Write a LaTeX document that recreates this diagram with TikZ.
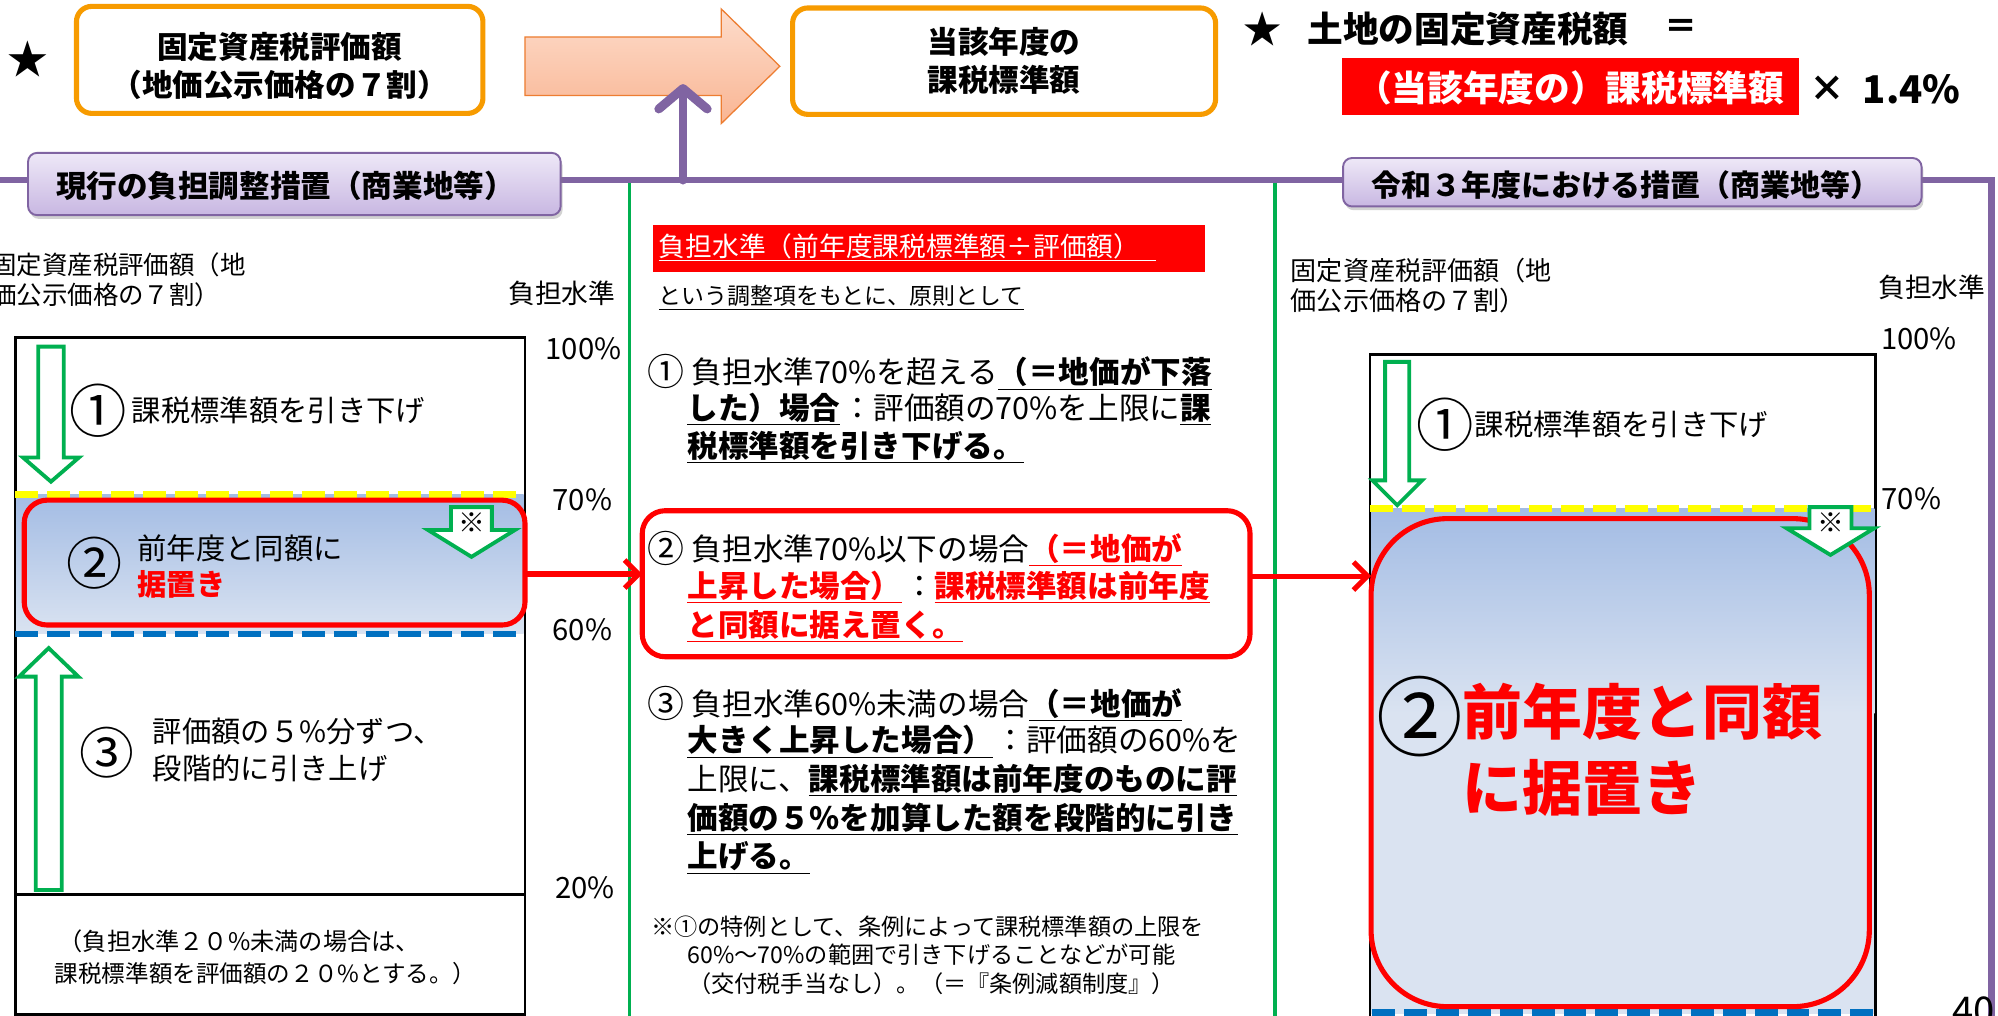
\documentclass[tikz,border=0pt]{standalone}
\usepackage{fontspec}
\setmainfont{Noto Sans CJK JP}
\usetikzlibrary{shadows,arrows.meta}
\definecolor{orng}{HTML}{F79B00}
\definecolor{purp}{HTML}{8064A2}
\definecolor{grn}{HTML}{00B050}
\definecolor{rd}{HTML}{FF0000}
\definecolor{bl}{HTML}{0070C0}
\definecolor{yl}{HTML}{FFFF00}
\definecolor{lavtop}{HTML}{EEE8F7}
\definecolor{lavbot}{HTML}{C8B7E2}
\definecolor{bltop}{HTML}{A3BCE4}
\definecolor{blbot}{HTML}{DAE3F1}
\definecolor{peachtop}{HTML}{FDDCCB}
\definecolor{peachbot}{HTML}{F9B593}
\definecolor{peachline}{HTML}{ED7D31}
\newcommand\uln[1]{\underline{\vphantom{（}#1}}
\newcommand\circn[1]{{\fontsize{29}{29}\selectfont\raisebox{-1.5pt}{#1}}}
\begin{document}
\begin{tikzpicture}[x=1pt,y=-1pt,
  every node/.style={inner sep=0pt, outer sep=0pt},
  fs/.style={font=\fontsize{#1}{#1}\selectfont},
  fsb/.style={font=\fontsize{#1}{#1}\selectfont\bfseries},
  obox/.style={draw=orng, line width=4, rounded corners=12, fill=white},
  plabel/.style={draw=purp, line width=1.5, rounded corners=7, top color=lavtop, bottom color=lavbot,
     drop shadow={shadow xshift=1.5pt, shadow yshift=-3pt, opacity=0.35}},
  rrect/.style={draw=rd, line width=4},
  garrow/.style={draw=grn, line width=3, fill=white, line join=miter},
  redarrow/.style={draw=rd, line width=4, -{Straight Barb[length=11pt,width=22pt]}},
  ln/.style={anchor=west},
  ydash/.style={yl, line width=5, dash pattern=on 18pt off 7pt},
  bdash/.style={bl, line width=5, dash pattern=on 18pt off 7pt}
]
\useasboundingbox (0,0) rectangle (1568,797);
\fill[white] (0,0) rectangle (1568,797);

% ---------- top row ----------
\node[fs=32] (star1) at (22,46) {★};
\node[obox, minimum width=319, minimum height=84] (b1) at (219.5,47) {};
\node[font=\fontsize{24}{30}\selectfont\bfseries, align=center] (b1t) at (219.5,51.5) {固定資産税評価額\\（地価公示価格の７割）};

\path[draw=peachline, line width=1, top color=peachtop, bottom color=peachbot]
  (412,29) -- (566,29) -- (566,7) -- (612,52) -- (566,97) -- (566,75) -- (412,75) -- cycle;

\node[obox, minimum width=332, minimum height=83.5, align=center,
      font=\fontsize{24}{30}\selectfont\bfseries] (b2) at (788,48) {当該年度の\\課税標準額};

\node[fsb=30] (star2) at (991,23) {★};
\node[fsb=28, ln] (eq1) at (1026,23) {土地の固定資産税額};
\node[fsb=26] (eq2) at (1319,23) {＝};
\node[fill=rd, minimum width=359, minimum height=44.5] (redbox) at (1232.3,68) {};
\node[fsb=28, text=white] (redboxt) at (1232.3,69) {（当該年度の）課税標準額};
\node[fsb=28] (times) at (1434,70) {×};
\node[fsb=30, ln] (rate) at (1462,70) {1.4\%};

% ---------- purple frame ----------
\draw[purp, line width=5] (0,141.3) -- (1563,141.3) -- (1563,800);
\coordinate (pa1) at (536,141.3);
\coordinate (pa2) at (536,66);
\draw[purp, line width=7, line cap=round, -{Straight Barb[length=16pt,width=38pt,round]}] (pa1) -- (pa2);

% green separators
\draw[grn, line width=3] (494,143.5) -- (494,800);
\draw[grn, line width=3] (1000.8,143.5) -- (1000.8,800);

\node[plabel, minimum width=418, minimum height=48.8] (pl1) at (231,144.4) {};
\node[fsb=24] (pl1t) at (224,146) {現行の負担調整措置（商業地等）};
\node[plabel, minimum width=454, minimum height=38] (pl2) at (1281,143) {};
\node[fsb=23.5] (pl2t) at (1276,145) {令和３年度における措置（商業地等）};

% ---------- left panel ----------
\node[fs=20, ln] (lt1) at (-7,208) {固定資産税評価額（地};
\node[fs=20, ln] (lt2) at (-7,231.5) {価公示価格の７割）};
\node[fs=21] (lbl) at (441,230) {負担水準};
\node[fs=23] (p100) at (458,274) {100\%};
\node[fs=23] (p70) at (457,392.5) {70\%};
\node[fs=23] (p60) at (457,494.5) {60\%};
\node[fs=23] (p20) at (459,697) {20\%};

\node[draw=black, line width=2, fill=white, minimum width=400, minimum height=531] (lbox) at (212,530.5) {};
\shade[top color=bltop, bottom color=blbot] (13,388) rectangle (411,497.5);
\draw[ydash] (12,388) -- (411,388);
\draw[bdash] (12,497.5) -- (411,497.5);
\draw[line width=2] (lbox.west |- 0,702) -- (lbox.east |- 0,702);

\node[rrect, rounded corners=18, minimum width=393, minimum height=98] (lrr) at (215.5,441.5) {};

\path[garrow] (30,272) -- (50,272) -- (50,359) -- (62,359) -- (40,378) -- (18,359) -- (30,359) -- cycle;
\path[garrow] (354,398) -- (386,398) -- (386,416) -- (404,416) -- (370,437) -- (336,416) -- (354,416) -- cycle;
\node[fs=21] (ast1) at (370,410) {※};
\path[garrow] (28,698.5) -- (48.5,698.5) -- (48.5,531) -- (61.5,531) -- (38.2,508.6) -- (15,531) -- (28,531) -- cycle;

\node[fs=45] (c1) at (77,322) {①};
\node[fs=23, ln] (l1) at (103.5,322) {課税標準額を引き下げ};
\node[fs=44] (c2) at (74,442) {②};
\node[fs=23, ln] (l2a) at (108,430) {前年度と同額に};
\node[fsb=23, ln, text=rd] (l2b) at (108,459) {据置き};
\node[fs=43] (c3) at (84,591) {③};
\node[fs=23, ln] (l3a) at (120,574) {評価額の５\%分ずつ、};
\node[fs=23, ln] (l3b) at (120,603) {段階的に引き上げ};
\node[fs=19, ln] (l4a) at (46,739) {（負担水準２０\%未満の場合は、};
\node[fs=18.5, ln] (l4b) at (43,764) {課税標準額を評価額の２０\%とする。）};

% ---------- middle panel ----------
\node[fill=rd, minimum width=433.5, minimum height=36.6] (mh) at (729.2,194.9) {};
\node[fs=21, ln, text=white] (mht) at (517,194) {\uln{負担水準（前年度課税標準額÷評価額）\hspace{12pt}}};
\node[fs=18, ln] (msub) at (517,233.5) {\uln{という調整項をもとに、原則として}};

\node[fs=24, ln] (i1a) at (508,292) {\circn{①}\hspace{6pt}負担水準70\%を超える\textbf{\uln{（＝地価が下落}}};
\node[fs=24, ln] (i1b) at (539.5,321) {\textbf{\uln{した）場合}}\hspace{2pt}：評価額の70\%を上限に\textbf{\uln{課}}};
\node[fs=24, ln] (i1c) at (539.5,351) {\textbf{\uln{税標準額を引き下げる。}}};

\node[rrect, rounded corners=18, minimum width=477, minimum height=114.6] (mrr) at (742.5,458.1) {};
\node[fs=24, ln] (i2a) at (508,430.5) {\circn{②}\hspace{6pt}負担水準70\%以下の場合\textcolor{rd}{\textbf{\uln{（＝地価が}}}};
\node[fs=24, ln] (i2b) at (539.5,460.5) {\textcolor{rd}{\textbf{\uln{上昇した場合）}}}\hspace{2pt}：\textcolor{rd}{\textbf{\uln{課税標準額は前年度}}}};
\node[fs=24, ln] (i2c) at (539.5,491.5) {\textcolor{rd}{\textbf{\uln{と同額に据え置く。}}}};

\node[fs=24, ln] (i3a) at (508,552) {\circn{③}\hspace{6pt}負担水準60\%未満の場合\textbf{\uln{（＝地価が}}};
\node[fs=24, ln] (i3b) at (539.5,582) {\textbf{\uln{大きく上昇した場合）}}\hspace{2pt}：評価額の60\%を};
\node[fs=24, ln] (i3c) at (539.5,612) {上限に、\textbf{\uln{課税標準額は前年度のものに評}}};
\node[fs=24, ln] (i3d) at (539.5,643) {\textbf{\uln{価額の５\%を加算した額を段階的に引き}}};
\node[fs=24, ln] (i3e) at (539.5,673) {\textbf{\uln{上げる。}}};

\node[fs=18.2, ln] (n1) at (511,727) {※①の特例として、条例によって課税標準額の上限を};
\node[fs=18.2, ln] (n2) at (539.5,749.5) {60\%～70\%の範囲で引き下げることなどが可能};
\node[fs=18.2, ln] (n3) at (540,772) {（交付税手当なし）。（＝『条例減額制度』）};

% ---------- right panel ----------
\node[fs=20.5, ln] (rt1) at (1013,212) {固定資産税評価額（地};
\node[fs=20.5, ln] (rt2) at (1013,235.5) {価公示価格の７割）};
\node[fs=21] (rlbl) at (1516,225.5) {負担水準};
\node[fs=23] (rp100) at (1506,265.5) {100\%};
\node[fs=23] (rp70) at (1500,391.5) {70\%};

\node[draw=black, line width=2, fill=white, minimum width=397, minimum height=522] (rbox) at (1273.5,539) {};
\shade[top color=bltop, bottom color=blbot] (1076,399) rectangle (1471,560);
\fill[blbot] (1076,559.5) rectangle (1471,796);
\draw[ydash] (1075,399) -- (1471,399);
\draw[bdash] (1077,794.5) -- (1471,794.5);

\node[rrect, rounded corners=60, minimum width=391, minimum height=383] (rrr) at (1271.5,598.5) {};

\path[garrow] (1087,284) -- (1106,284) -- (1106,377) -- (1116,377) -- (1096.5,396.5) -- (1077,377) -- (1087,377) -- cycle;
\path[garrow] (1420,398) -- (1453,398) -- (1453,414.5) -- (1471,414.5) -- (1436.5,435.5) -- (1402,414.5) -- (1420,414.5) -- cycle;
\node[fs=21] (ast2) at (1436.5,410) {※};

\node[fs=45] (rc1) at (1134,333) {①};
\node[fs=23, ln] (r1) at (1157.5,333) {課税標準額を引き下げ};
\node[fs=68] (rc2) at (1114,562) {②};
\node[fsb=47, ln, text=rd] (r2a) at (1148,558.5) {前年度と同額};
\node[fsb=47, ln, text=rd] (r2b) at (1148,618.5) {に据置き};

\node[fs=30, anchor=north west] (pg) at (1532,782) {40};

% ---------- connectors ----------
\draw[redarrow] ([yshift=-9pt]lrr.east) -- ([yshift=-9pt]lrr.east -| mrr.west);
\draw[redarrow] ([yshift=6pt]mrr.east) -- ([yshift=6pt]mrr.east -| rrr.west);
\end{tikzpicture}
\end{document}
